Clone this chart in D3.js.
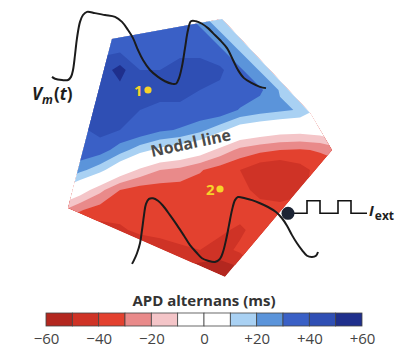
<!DOCTYPE html>
<html><head><meta charset="utf-8">
<script src="https://cdn.jsdelivr.net/npm/d3@7"></script>
<style>
html,body{margin:0;padding:0;background:#fff;}
svg{display:block;font-family:"Open Sans",sans-serif;}
</style></head><body>
<svg id="chart" width="400" height="359"></svg>
<script>
// ---------- DATA ----------
// APD alternans (ms) sampled on a regular grid over the tissue (rows top->bottom, cols left->right)
const apdGrid = [
  [38,38,38,38,38,38,32,19,7,0,0,0,0,0,0],
  [38,38,38,38,38,38,38,32,19,7,0,0,0,0,0],
  [38,38,38,38,38,38,38,38,32,19,7,0,0,0,0],
  [38,38,44,54,40,40,43,43,42,32,19,7,0,0,0],
  [38,38,43,47,43,43,43,40,38,38,32,19,7,0,0],
  [38,38,43,43,40,38,38,38,38,29,25,22,19,7,0],
  [38,38,43,40,38,32,29,23,13,3,-1,-4,-5,-3,3],
  [38,38,35,25,14,7,3,-3,-13,-23,-27,-30,-31,-29,-23],
  [34,23,14,-1,-12,-20,-23,-29,-35,-40,-48,-50,-44,-36,-36],
  [8,-3,-17,-30,-35,-35,-35,-35,-35,-36,-44,-46,-42,-36,-36],
  [-18,-29,-35,-35,-35,-35,-35,-35,-36,-35,-35,-36,-36,-35,-35],
  [-40,-42,-44,-42,-37,-35,-35,-35,-38,-42,-35,-35,-35,-35,-35],
  [-50,-50,-50,-50,-50,-47,-42,-40,-44,-38,-35,-35,-35,-35,-35],
  [-52,-52,-52,-52,-52,-52,-52,-56,-56,-52,-40,-40,-40,-40,-40],
  [-52,-52,-52,-52,-52,-52,-52,-52,-52,-52,-52,-52,-52,-52,-52]
];
// tissue boundary in grid units [col,row]
const tissueOutline = [[2.6,1.45],[8.1,0.45],[12.5,5.15],[13.6,7.0],[8.25,13.35],[0.4,9.9]];
const bandThresholds = [-50,-40,-30,-20,-10,0,10,20,30,40,50];
const legendBreaks = [-60,-50,-40,-30,-20,-10,0,10,20,30,40,50,60];
const tickValues = [-60,-40,-20,0,20,40,60];
const tickLabels = ["\u221260","\u221240","\u221220","0","+20","+40","+60"];
// membrane voltage traces: time (ms) and Vm (mV)
const trace1T = [0,6,20,32,38,42,46,50,56,62,70,86,106,126,140,152,162,172,182,196,212,226,240,248,254,260,266,272,278,288,300,312,322,336,350,362,372,384,400,416,428];
const trace1V = [-80,-83,-85,-85,-80,-69,-45,-18,8,19,24,22,19,16,8,-5,-18,-37,-53,-69,-80,-87,-91,-91,-82,-63,-34,-5,9,9,5,-2,-10,-21,-34,-53,-69,-82,-90,-96,-98];
const trace2T = [0,4,10,16,20,24,28,34,42,52,62,76,90,104,116,128,140,152,166,176,182,188,194,200,206,212,226,240,256,272,288,300,310,320,330,340,350,360,368,372];
const trace2V = [-88,-82,-71,-55,-34,-10,8,16,17,13,5,-10,-26,-43,-58,-69,-79,-83,-85,-80,-69,-50,-26,-2,14,19,17,14,9,3,-5,-15,-27,-42,-55,-66,-75,-77,-75,-69];
// stimulus current pulses
const stimT = [0,19,32,50,63,79];
const stimI = [0,1,0,1,0,0];
// recording sites [label, col, row]
const siteLabels = ["1","2"];
const siteCols = [4.4,8.0];
const siteRows = [4.0,8.95];

// ---------- DRAW ----------
const svg = d3.select("#chart");
const nRows = apdGrid.length, nCols = apdGrid[0].length;
const colX = d3.scaleLinear().domain([0,nCols-1]).range([60,340]);
const rowY = d3.scaleLinear().domain([0,nRows-1]).range([10,290]);
const color = d3.scaleThreshold().domain(bandThresholds)
  .range(["#b3271f","#cf3326","#e3412f","#e98a8a","#f4c5c8","#ffffff","#ffffff","#a9d1f3","#5b94da","#3a60c6","#2f4fb4","#1f2f8c"]);

const outlinePts = tissueOutline.map(([c,r]) => [colX(c), rowY(r)]);
const outlineD = d3.line()(outlinePts) + "Z";
svg.append("defs").append("clipPath").attr("id","tissue").append("path").attr("d", outlineD);

const contours = d3.contours().size([nCols,nRows]).thresholds(bandThresholds)(apdGrid.flat());
const proj = d3.geoTransform({point(x,y){ this.stream.point(colX(x-0.5), rowY(y-0.5)); }});
const gpath = d3.geoPath(proj);

const map = svg.append("g").attr("clip-path","url(#tissue)");
map.append("path").attr("d", outlineD).attr("fill", color(-60));
map.selectAll("path.band").data(contours).join("path")
  .attr("class","band").attr("d", gpath).attr("fill", d => color(d.value));

// voltage traces
const t1x = d3.scaleLinear().domain([0,428]).range([52,266]);
const t1y = d3.scaleLinear().domain([-85,25]).range([80,11.25]);
const t2x = d3.scaleLinear().domain([0,372]).range([132,318]);
const t2y = d3.scaleLinear().domain([-85,25]).range([262,193.25]);
const lineGen = d3.line().curve(d3.curveCatmullRom.alpha(0.5));
svg.append("path").attr("d", lineGen(trace1T.map((t,i)=>[t1x(t), t1y(trace1V[i])])))
  .attr("fill","none").attr("stroke","#1b1b1b").attr("stroke-width",2).attr("stroke-linejoin","round");
svg.append("path").attr("d", lineGen(trace2T.map((t,i)=>[t2x(t), t2y(trace2V[i])])))
  .attr("fill","none").attr("stroke","#1b1b1b").attr("stroke-width",2).attr("stroke-linejoin","round");

// stimulus
const sx = d3.scaleLinear().domain([0,79]).range([288,367]);
const sy = d3.scaleLinear().domain([0,1]).range([213.3,200.7]);
svg.append("path").attr("d", d3.line().curve(d3.curveStepAfter)(stimT.map((t,i)=>[sx(t), sy(stimI[i])])))
  .attr("fill","none").attr("stroke","#111").attr("stroke-width",1.6);
svg.append("circle").attr("cx", sx(0)).attr("cy", sy(0)).attr("r",6.5).attr("fill","#1c2434");

// sites
siteLabels.forEach((lab,i) => {
  const cx = colX(siteCols[i]), cy = rowY(siteRows[i]);
  svg.append("circle").attr("cx",cx).attr("cy",cy).attr("r",3.6).attr("fill","#f6d22a");
  svg.append("text").attr("x",cx-5.5).attr("y",cy+6).attr("text-anchor","end")
    .attr("font-size",15).attr("font-weight","bold").attr("fill","#f6d22a").text(lab);
});

// Nodal line label
svg.append("text").attr("transform","translate(152,157) rotate(-12)")
  .attr("font-size",16).attr("font-weight","bold").attr("fill","#4a4a4a").text("Nodal line");

// Vm(t)
const vm = svg.append("text").attr("x",32).attr("y",100).attr("fill","#1e1e1e").attr("font-weight","bold").attr("font-size",17);
vm.append("tspan").attr("font-style","italic").text("V");
vm.append("tspan").attr("font-style","italic").attr("font-size",12).attr("dy",4).text("m");
vm.append("tspan").attr("dy",-4).attr("dx",1).text("(");
vm.append("tspan").attr("font-style","italic").text("t");
vm.append("tspan").text(")");

// I_ext
const ie = svg.append("text").attr("x",369).attr("y",216).attr("fill","#1e1e1e").attr("font-weight","bold").attr("font-size",15);
ie.append("tspan").attr("font-style","italic").text("I");
ie.append("tspan").attr("font-size",12).attr("dy",4).attr("dx",1).text("ext");

// ---------- LEGEND ----------
const lx = d3.scaleLinear().domain([-60,60]).range([46,362]);
const legend = svg.append("g");
legend.append("text").attr("x",204).attr("y",306).attr("text-anchor","middle")
  .attr("font-size",15).attr("font-weight","bold").attr("fill","#333").text("APD alternans (ms)");
legend.selectAll("rect").data(legendBreaks.slice(0,-1)).join("rect")
  .attr("x", d => lx(d)).attr("y",313).attr("width", d => lx(d+10)-lx(d)).attr("height",13)
  .attr("fill", d => color(d)).attr("stroke","#444").attr("stroke-width",0.8);
const axis = d3.axisBottom(lx).tickValues(tickValues).tickSize(0).tickPadding(6)
  .tickFormat((d,i) => tickLabels[i]);
const ag = legend.append("g").attr("transform","translate(0,327)").call(axis);
ag.select(".domain").remove();
ag.selectAll("text").attr("font-size",15).attr("fill","#444").attr("font-family","'Open Sans',sans-serif");
</script>
</body></html>
